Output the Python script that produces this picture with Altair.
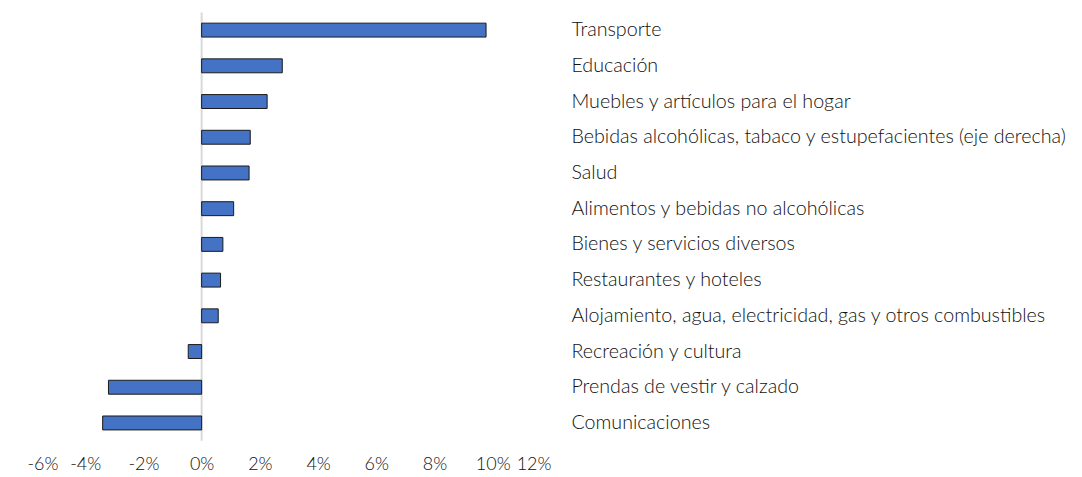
import altair as alt
import pandas as pd

categories = [
    "Transporte",
    "Educación",
    "Muebles y artículos para el hogar",
    "Bebidas alcohólicas, tabaco y estupefacientes (eje derecha)",
    "Salud",
    "Alimentos y bebidas no alcohólicas",
    "Bienes y servicios diversos",
    "Restaurantes y hoteles",
    "Alojamiento, agua, electricidad, gas y otros combustibles",
    "Recreación y cultura",
    "Prendas de vestir y calzado",
    "Comunicaciones",
]
values = [9.77, 2.77, 2.25, 1.67, 1.63, 1.10, 0.73, 0.65, 0.57, -0.46, -3.20, -3.40]
x_ticks = [-6, -4, -2, 0, 2, 4, 6, 8, 10, 12]

df = pd.DataFrame({"cat": categories, "val": [v / 100 for v in values]})
zero = pd.DataFrame({"x": [0.0]})

FONT = "Lato"
FS = 19.7

bars = alt.Chart(df).mark_bar(
    fill="#4472C4", stroke="#1a1a1a", strokeWidth=1
).encode(
    x=alt.X("val:Q",
            scale=alt.Scale(domain=[-0.06, 0.12], nice=False, zero=False),
            axis=alt.Axis(values=[t / 100 for t in x_ticks],
                          labelExpr="replace(format(datum.value, '.0%'), '\u2212', '-')",
                          domain=False, ticks=False, grid=False,
                          labelFont=FONT, labelFontSize=18, labelFontWeight=300,
                          labelColor="#111111",
                          labelPadding=15, title=None)),
    y=alt.Y("cat:N", sort=categories,
            scale=alt.Scale(paddingInner=0.61, paddingOuter=0.3),
            axis=alt.Axis(orient="right", domain=False, ticks=False, grid=False,
                          labelAlign="left", labelPadding=20, labelLimit=600,
                          labelFont=FONT, labelFontSize=FS, labelFontWeight=300,
                          labelColor="#111111",
                          title=None)),
)

rule = alt.Chart(zero).mark_rule(color="#d9d9d9", strokeWidth=2).encode(
    x=alt.X("x:Q")
)

chart = alt.layer(rule, bars).properties(
    width=525, height=429,
    autosize=alt.AutoSizeParams(type="none"),
    padding={"left": 19, "top": 4, "right": 524, "bottom": 40},
).configure(background="white").configure_view(stroke=None)

chart.save("out.html", embed_options={"renderer": "svg", "actions": False})
